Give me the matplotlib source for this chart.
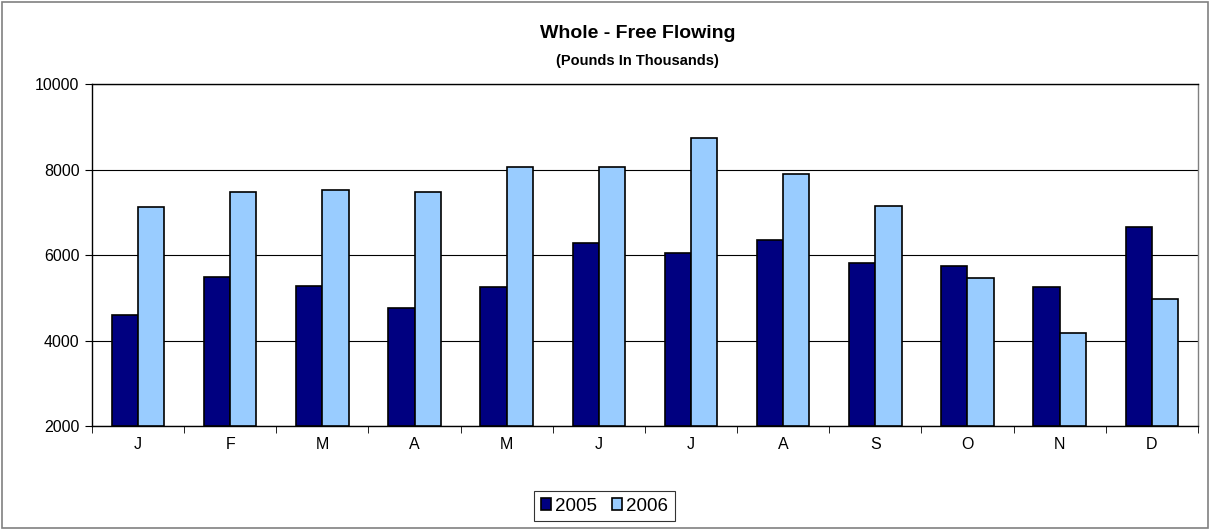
import numpy as np
import matplotlib.pyplot as plt
from matplotlib.patches import Rectangle

months = ["J", "F", "M", "A", "M", "J", "J", "A", "S", "O", "N", "D"]
vals_2005 = [4590, 5485, 5275, 4752, 5251, 6289, 6047, 6351, 5805, 5743, 5259, 6655]
vals_2006 = [7123, 7474, 7513, 7466, 8058, 8066, 8729, 7895, 7154, 5454, 4168, 4979]
y_ticks = [2000, 4000, 6000, 8000, 10000]

plt.rcParams['font.family'] = ['Liberation Sans', 'DejaVu Sans']

fig = plt.figure(figsize=(12.1, 5.3), dpi=100)
ax = fig.add_axes([0.0760, 0.1962, 0.9140, 0.6453])

x = np.arange(len(months))
w = 0.285
ax.bar(x - w / 2, np.array(vals_2005) - 2000, w, bottom=2000, color='#000080',
       edgecolor='black', linewidth=1.2, label='2005', zorder=3)
ax.bar(x + w / 2, np.array(vals_2006) - 2000, w, bottom=2000, color='#99ccff',
       edgecolor='black', linewidth=1.2, label='2006', zorder=3)

ax.set_xlim(-0.5, len(months) - 0.5)
ax.set_ylim(2000, 10000)
ax.set_yticks(y_ticks)
ax.set_yticklabels([str(v) for v in y_ticks], fontsize=11.5)
ax.yaxis.grid(True, color='black', linewidth=0.8, zorder=0)

# month labels at centres, tick marks at boundaries
ax.set_xticks(x)
ax.set_xticklabels(months, fontsize=11.5)
ax.tick_params(axis='x', length=0, pad=8)
ax.set_xticks(np.arange(-0.5, len(months)), minor=True)
ax.tick_params(axis='x', which='minor', length=5, direction='out', color='black')
ax.tick_params(axis='y', length=5, direction='out', pad=4)

for side in ['left', 'bottom', 'top']:
    ax.spines[side].set_color('black')
    ax.spines[side].set_linewidth(1.0)
ax.spines['right'].set_color('#808080')
ax.spines['right'].set_linewidth(1.0)

fig.text(0.527, 0.937, "Whole - Free Flowing", ha='center', va='center',
         fontsize=14, fontweight='bold')
fig.text(0.527, 0.885, "(Pounds In Thousands)", ha='center', va='center',
         fontsize=10.5, fontweight='bold')

leg = fig.legend(loc='center', bbox_to_anchor=(0.4995, 0.045), ncol=2,
                 fontsize=13.5, frameon=True, fancybox=False, edgecolor='black',
                 handlelength=0.55, handleheight=0.55, handletextpad=0.2,
                 columnspacing=0.8, borderpad=0.35)
leg.get_frame().set_linewidth(0.8)

fig.patches.append(Rectangle((0.002, 0.004), 0.996, 0.992, transform=fig.transFigure,
                             fill=False, edgecolor='#808080', linewidth=1.2))

fig.savefig('out.png', dpi=100)
